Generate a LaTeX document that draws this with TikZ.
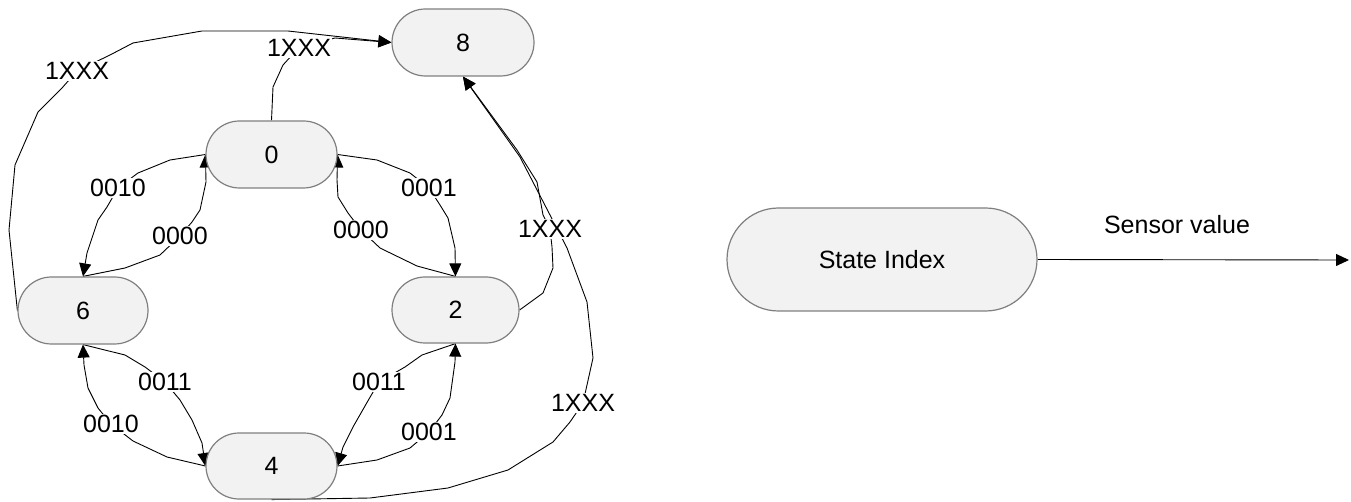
\documentclass[tikz,border=0pt]{standalone}
\usepackage{fontspec}
\setmainfont{Liberation Sans}
\usetikzlibrary{arrows.meta,backgrounds}
\definecolor{nodefill}{HTML}{F2F2F2}
\definecolor{nodeline}{HTML}{7F7F7F}
\tikzset{
  stbox/.style={draw=nodeline, fill=nodefill, line width=1.2pt, inner sep=0pt,
    font=\fontsize{25}{30}\selectfont, text=black},
  lbl/.style={fill=white, inner sep=1.5pt, font=\fontsize{25}{30}\selectfont, text=black},
  conn/.style={draw=black, line width=0.9pt, line join=round},
  arr/.style={conn, -{Triangle[length=13pt,width=12pt]}}
}
\begin{document}
\begin{tikzpicture}[x=1pt,y=-1pt]
\useasboundingbox (0,0) rectangle (1351,502);
% states
\node[stbox, minimum width=142pt, minimum height=67pt, rounded corners=33.5pt] (n8) at (463,42.5) {8};
\node[stbox, minimum width=131pt, minimum height=67pt, rounded corners=33.5pt] (n0) at (271.5,154.5) {0};
\node[stbox, minimum width=130pt, minimum height=67pt, rounded corners=33.5pt] (n6) at (83,310.5) {6};
\node[stbox, minimum width=127pt, minimum height=66pt, rounded corners=33pt] (n2) at (455.5,310) {2};
\node[stbox, minimum width=131pt, minimum height=66pt, rounded corners=33pt] (n4) at (271.5,466) {4};
\node[stbox, minimum width=310pt, minimum height=103pt, rounded corners=51.5pt] (si) at (882,259.5) {State Index};
\coordinate (out) at (1349,260);
\node[font=\fontsize{25}{30}\selectfont] (sv) at (1177,225) {Sensor value};
% labels
\node[lbl] (l1) at (299,47.5) {1XXX};
\node[lbl] (l2) at (77,71) {1XXX};
\node[lbl] (l3) at (118,188) {0010};
\node[lbl] (l4) at (180,236) {0000};
\node[lbl] (l5) at (429,188) {0001};
\node[lbl] (l6) at (361,230) {0000};
\node[lbl] (l7) at (550,229) {1XXX};
\node[lbl] (l8) at (583,403) {1XXX};
\node[lbl] (l9) at (165,382) {0011};
\node[lbl] (l10) at (111,424) {0010};
\node[lbl] (l11) at (379,382) {0011};
\node[lbl] (l12) at (429,432) {0001};
\begin{pgfonlayer}{background}
\draw[arr] (n0.north) -- (273,87) -- (283,65) -- (l1.center) -- (335,38) -- (n8.west);
\draw[arr] (n6.west) -- (9,230) -- (15,165) -- (38,112) -- (62,88) -- (l2.center) -- (110,55) -- (133,43) -- (202,31) -- (288,31) -- (n8.west);
\draw[arr] (n0.west) -- (170,160) -- (138,173) -- (l3.center) -- (107,207) -- (98,220) -- (87,253) -- (n6.north);
\draw[arr] (n6.north) -- (125,268) -- (160,255) -- (l4.center) -- (192,222) -- (200,210) -- (206,182) -- (n0.west);
\draw[arr] (n0.east) -- (377,160) -- (410,173) -- (l5.center) -- (440,205) -- (448,218) -- (455,248) -- (n2.north);
\draw[arr] (n2.north) -- (417,266) -- (380,248) -- (l6.center) -- (348,213) -- (338,197) -- (337,180) -- (n0.east);
\draw[arr] (n2.east) -- (543,293) -- (553,268) -- (552,247) -- (l7.center) -- (543,215) -- (537,182) -- (517,150) -- (n8.south);
\draw[arr] (n4.south) -- (370,498) -- (448,488) -- (508,470) -- (553,442) -- (570,422) -- (l8.center) -- (593,358) -- (587,302) -- (567,248) -- (550,215) -- (520,157) -- (n8.south);
\draw[arr] (n6.south) -- (125,355) -- (145,367) -- (l9.center) -- (180,400) -- (192,420) -- (202,443) -- (n4.west);
\draw[arr] (n4.west) -- (167,457) -- (133,441) -- (l10.center) -- (98,408) -- (88,388) -- (84,365) -- (n6.south);
\draw[arr] (n2.south) -- (422,355) -- (405,367) -- (l11.center) -- (369,399) -- (353,427) -- (343,447) -- (n4.east);
\draw[arr] (n4.east) -- (377,460) -- (410,448) -- (l12.center) -- (442,415) -- (450,398) -- (455,362) -- (n2.south);
\draw[arr] (si.east) -- (out);
\end{pgfonlayer}
\end{tikzpicture}
\end{document}
